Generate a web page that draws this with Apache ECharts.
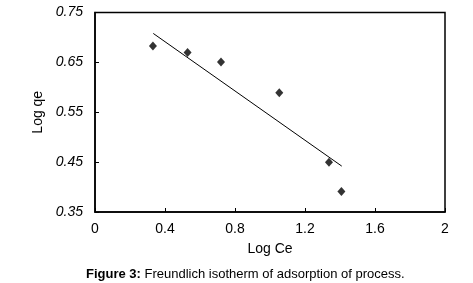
<!doctype html>
<html lang="en">
	<head>
		<meta charset="UTF-8">
		<title>Freundlich isotherm</title>
		<script src="https://cdn.jsdelivr.net/npm/echarts@6/dist/echarts.min.js"></script>
		<style>
			html, body { margin: 0; padding: 0; background: #fff; }
		</style>
	</head>
	<body>
		<div id="chart" style="width: 473px; height: 283px;"></div>
		<script>
			// measured points (Log Ce, Log qe)
			let logCe = [0.331, 0.529, 0.72, 1.053, 1.337, 1.408]
			let logQe = [0.683, 0.670, 0.651, 0.589, 0.450, 0.391]
			// fitted line end points
			let fitX = [0.333, 1.41]
			let fitY = [0.708, 0.442]

			let points = logCe.map((x, i) => [x, logQe[i]])
			let fitLine = fitX.map((x, i) => [x, fitY[i]])

			let mCharts = echarts.init(document.getElementById('chart'))
			let font = 'Liberation Sans, Arial, sans-serif'
			let option = {
				animation: false,
				grid: {
					left: 95, right: 28, top: 12.5, bottom: 71,
					show: true, borderColor: '#000', borderWidth: 1.5
				},
				xAxis: {
					type: 'value',
					min: 0, max: 2, interval: 0.4,
					name: 'Log Ce',
					nameLocation: 'middle',
					nameGap: 30,
					nameTextStyle: { fontFamily: font, fontSize: 14, color: '#000' },
					axisLine: { lineStyle: { color: '#000', width: 1.5 } },
					axisTick: { inside: true, length: 4, lineStyle: { color: '#000' } },
					axisLabel: { fontFamily: font, fontSize: 14, color: '#000', margin: 10,
						formatter: v => String(Math.round(v * 10) / 10) },
					splitLine: { show: false }
				},
				yAxis: {
					type: 'value',
					min: 0.35, max: 0.75, interval: 0.1,
					name: 'Log qe',
					nameLocation: 'middle',
					nameGap: 41,
					nameTextStyle: { fontFamily: font, fontSize: 14, color: '#000' },
					axisLine: { show: true, lineStyle: { color: '#000', width: 1.5 } },
					axisTick: { show: true, inside: true, length: 4, lineStyle: { color: '#000' } },
					axisLabel: { fontFamily: font, fontSize: 14, fontStyle: 'italic', color: '#000', margin: 12,
						formatter: v => v.toFixed(2) },
					splitLine: { show: false }
				},
				series: [{
					type: 'scatter',
					data: points,
					symbol: 'diamond',
					symbolSize: [8, 9],
					itemStyle: { color: '#000' }
				}, {
					type: 'line',
					data: fitLine,
					symbol: 'none',
					lineStyle: { color: '#000', width: 1 }
				}],
				graphic: [{
					type: 'text',
					left: 86,
					top: 268,
					style: {
						text: '{b|Figure 3:} Freundlich isotherm of adsorption of process.',
						fontFamily: font,
						fontSize: 13,
						fill: '#000',
						rich: { b: { fontWeight: 'bold', fontFamily: font, fontSize: 13 } }
					}
				}]
			}
			mCharts.setOption(option)
		</script>
	</body>
</html>
